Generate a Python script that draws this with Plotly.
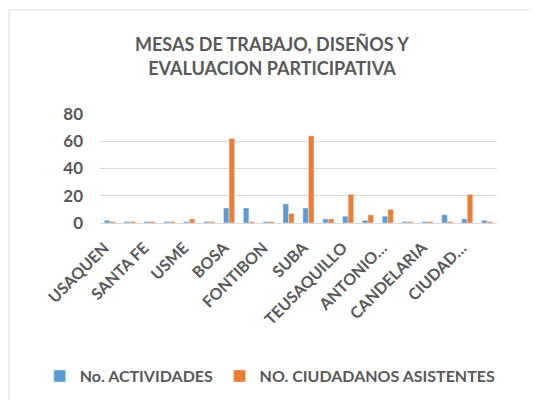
import plotly.graph_objects as go

# localidades de Bogota (20), se etiquetan una si y una no como en el original
localidades = ["USAQUEN", "CHAPINERO", "SANTA FE", "SAN CRISTOBAL", "USME",
               "TUNJUELITO", "BOSA", "KENNEDY", "FONTIBON", "ENGATIVA",
               "SUBA", "BARRIOS UNIDOS", "TEUSAQUILLO", "LOS MARTIRES",
               "ANTONIO NARIÑO", "PUENTE ARANDA", "CANDELARIA", "RAFAEL URIBE",
               "CIUDAD BOLIVAR", "SUMAPAZ"]
actividades = [2, 1, 1, 1, 1, 1, 11, 11, 1, 14, 11, 3, 5, 2, 5, 1, 1, 6, 3, 2]
ciudadanos = [1, 1, 1, 1, 3, 1, 62, 1, 1, 7, 64, 3, 21, 6, 10, 1, 1, 1, 21, 1]
tick_vals = ["USAQUEN", "SANTA FE", "USME", "BOSA", "FONTIBON", "SUBA",
             "TEUSAQUILLO", "ANTONIO NARIÑO", "CANDELARIA", "CIUDAD BOLIVAR"]
tick_text = ["USAQUEN", "SANTA FE", "USME", "BOSA", "FONTIBON", "SUBA",
             "TEUSAQUILLO", "ANTONIO…", "CANDELARIA", "CIUDAD…"]

gris = "#595959"
fuente = "Lato"

fig = go.Figure()
fig.add_trace(go.Bar(x=localidades, y=actividades, name="No. ACTIVIDADES",
                     marker=dict(color="#5B9BD5"), legend="legend"))
fig.add_trace(go.Bar(x=localidades, y=ciudadanos, name="NO. CIUDADANOS ASISTENTES",
                     marker=dict(color="#ED7D31"), legend="legend2"))

# marco del grafico (se sale por la derecha y abajo)
fig.add_shape(type="rect", xref="paper", yref="paper",
              x0=-0.229, x1=1.3, y0=-2.0, y1=1.954,
              line=dict(color="#D9D9D9", width=1), layer="below")

# la pagina deja 8px de margen, por eso la figura es algo menor que la ventana
leyenda = dict(orientation="h", xref="container", yref="container",
               xanchor="left", y=0.061, yanchor="middle",
               font=dict(size=16, color=gris, weight="bold"),
               itemwidth=30, bgcolor="rgba(0,0,0,0)")

fig.update_layout(
    width=529, height=392,
    margin=dict(l=92, r=40, t=106, b=177, autoexpand=False),
    title=dict(text="MESAS DE TRABAJO, DISEÑOS Y<br>EVALUACION PARTICIPATIVA",
               x=0.499, xanchor="center", y=0.890, yanchor="middle",
               font=dict(family=fuente, size=18, color=gris, weight="bold")),
    barmode="group", bargap=0.44, bargroupgap=0,
    plot_bgcolor="white", paper_bgcolor="white",
    font=dict(family=fuente, color=gris),
    showlegend=True,
    xaxis=dict(tickmode="array", tickvals=tick_vals,
               ticktext=[t + "\u00a0\u00a0" for t in tick_text],
               tickangle=-45, tickfont=dict(size=16, color=gris, weight="bold"),
               ticklabelstandoff=6,
               showgrid=False, showline=False, ticks="", automargin=False),
    yaxis=dict(range=[0, 80], dtick=20, gridcolor="#D9D9D9", gridwidth=1,
               zeroline=True, zerolinecolor="#D9D9D9", zerolinewidth=1,
               tickfont=dict(size=17, color=gris, weight="bold"),
               ticklabelstandoff=16, automargin=False),
    legend=dict(leyenda, x=0.06),
    legend2=dict(leyenda, x=0.40),
)

fig.write_html("out.html")
